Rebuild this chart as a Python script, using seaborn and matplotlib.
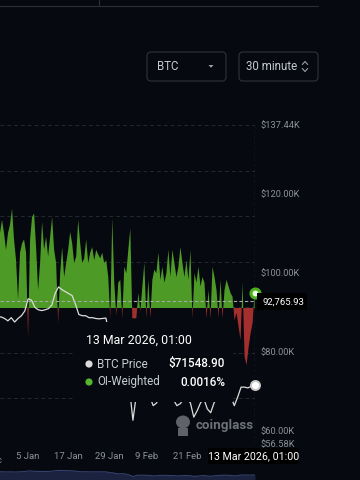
import numpy as np
import pandas as pd
import matplotlib
matplotlib.use("Agg")
import matplotlib.pyplot as plt
import seaborn as sns
from matplotlib.patches import Rectangle, FancyBboxPatch, Polygon, Circle, Ellipse
from matplotlib.lines import Line2D
from matplotlib.transforms import IdentityTransform

# ---------------- data ----------------
coin = "BTC"
interval = "30 minute"

price_end = "2026-03-13 01:00"
btc_price_k = [89.0, 88.7, 88.8, 88.4, 87.8, 88.6, 87.5, 88.4, 89.1, 90.3,
               93.4, 93.0, 91.2, 90.6, 90.4, 90.6, 90.9, 91.8, 94.8, 96.4,
               95.7, 95.2, 94.7, 94.2, 92.0, 89.4, 89.1, 89.1, 88.6, 88.6,
               88.4, 88.3, 88.4, 88.5, 84.5, 83.0, 79.0, 77.5, 78.5, 75.5,
               70.5, 62.6, 69.0, 70.5, 70.0, 69.5, 68.5, 66.3, 67.0, 69.0,
               69.5, 68.5, 68.0, 67.8, 66.3, 66.8, 68.0, 68.0, 67.0, 63.4,
               65.0, 67.0, 68.0, 65.5, 64.5, 67.0, 68.5, 69.5, 70.0, 69.5,
               68.5, 66.3, 68.5, 71.0, 71.0, 70.8, 71.2, 71.5489]

funding_start = "2025-12-27 17:00"
oi_weighted_pct = [0.0080, 0.0094, 0.0080, 0.0062, 0.0080, 0.0089, 0.0106, 0.0073, 0.0051, 0.0009,
                   0.0059, 0.0069, 0.0073, 0.0059, -0.0032, 0.0073, 0.0097, 0.0101, 0.0065, 0.0019,
                   0.0048, 0.0092, 0.0062, 0.0076, 0.0055, 0.0076, 0.0097, 0.0062, 0.0048, -0.0016,
                   0.0037, 0.0065, 0.0033, 0.0048, 0.0062, 0.0081, 0.0069, 0.0048, 0.0055, 0.0094,
                   0.0069, 0.0048, 0.0053, 0.0073, 0.0048, 0.0059, 0.0065, 0.0051, 0.0062, 0.0057,
                   0.0053, 0.0059, 0.0048, 0.0051, 0.0033, -0.0011, 0.0096, 0.0027, -0.0008, 0.0027,
                   0.0030, -0.0011, 0.0044, 0.0037, 0.0062, 0.0085, -0.0011, -0.0011, -0.0011, 0.0016,
                   -0.0004, 0.0023, 0.0048, -0.0011, 0.0030, -0.0011, 0.0030, 0.0041, 0.0037, 0.0059,
                   0.0030, 0.0044, 0.0027, 0.0037, 0.0062, 0.0033, 0.0062, 0.0048, 0.0033, 0.0044,
                   0.0065, 0.0048, 0.0033, 0.0051, 0.0030, 0.0062, -0.0011, 0.0037, 0.0027, 0.0044,
                   0.0023, 0.0033, 0.0027, -0.0011, 0.0019, -0.0011, 0.0044, 0.0033, 0.0019, -0.0010,
                   0.0030, -0.0011, 0.0019, 0.0030, 0.0023, 0.0016, 0.0012, -0.0013, -0.0005, -0.0020,
                   -0.0034, 0.0027, -0.0052, -0.0061, -0.0042, -0.0027, -0.0016, 0.0016]

tick_dates = ["2025-12-24", "2026-01-05", "2026-01-17", "2026-01-29", "2026-02-09", "2026-02-21"]
tick_labels = ["24 Dec", "5 Jan", "17 Jan", "29 Jan", "9 Feb", "21 Feb"]
price_ticks = [56.58, 60.0, 80.0, 100.0, 120.0, 137.44]
price_range = (56.58, 137.44)
funding_range = (-0.014507, 0.019520)

hover_time = "13 Mar 2026, 01:00"
hover_price = 71548.90
hover_funding = 0.0016
crosshair_price = 92765.93

# ---------------- style ----------------
BG = "#06090f"
GREEN = "#4e9a26"
RED = "#a3302f"
GRAY = "#8c9199"
W, H = 360, 480

sns.set_theme(style="dark", rc={"figure.facecolor": BG, "axes.facecolor": BG,
                                "savefig.facecolor": BG})
plt.rcParams["font.family"] = ["Roboto", "DejaVu Sans"]

fig = plt.figure(figsize=(3.6, 4.8), dpi=100)
PX = IdentityTransform()


def P(x, y):
    return (x, H - y)


# ---------------- main axes ----------------
ax_f = fig.add_axes([0, 1 - 444 / H, 254.6 / W, (444 - 125) / H])
ax_f.set_facecolor(BG)
price_dates = pd.date_range(end=price_end, periods=len(btc_price_k), freq="D")
fund_dates = pd.date_range(start=funding_start, end=price_end, periods=len(oi_weighted_pct))
fvals = np.array(oi_weighted_pct)

ax_f.fill_between(fund_dates, fvals, 0, where=fvals >= 0, interpolate=True,
                  color=GREEN, lw=0, zorder=2)
ax_f.fill_between(fund_dates, fvals, 0, where=fvals <= 0, interpolate=True,
                  color=RED, lw=0, zorder=2)
ax_f.set_ylim(*funding_range)
ax_f.set_xlim(pd.Timestamp(funding_start), pd.Timestamp(price_end))
ax_f.set_yticks(np.linspace(funding_range[0], funding_range[1], 8))
ax_f.grid(axis="y", color="#242830", lw=0.7, ls=(0, (4, 3)))
ax_f.grid(axis="x", visible=False)
ax_f.set_axisbelow(True)
ax_f.tick_params(axis="y", left=False, labelleft=False)
ax_f.set_xticks([pd.Timestamp(d) for d in tick_dates[1:]])
ax_f.set_xticklabels(tick_labels[1:])
ax_f.tick_params(axis="x", length=0, pad=6, labelsize=6.8, labelcolor=GRAY)
ax_f.text(pd.Timestamp(tick_dates[0]), -0.0365, tick_labels[0], transform=ax_f.get_xaxis_transform(),
          ha="center", va="top", fontsize=6.8, color=GRAY, clip_on=False)
for s in ax_f.spines.values():
    s.set_visible(False)
ax_f.scatter([fund_dates[-1]], [fvals[-1]], s=42, facecolor="#eaffdf", edgecolor="#4caf1f",
             linewidth=2.2, zorder=6, clip_on=False)

ax_p = ax_f.twinx()
ax_p.patch.set_visible(False)
sns.lineplot(x=price_dates, y=btc_price_k, ax=ax_p, color="#dcdcdc", lw=0.9, zorder=3)
ax_p.set_ylim(*price_range)
ax_p.set_xlim(pd.Timestamp(funding_start), pd.Timestamp(price_end))
ax_p.set_yticks(price_ticks)
ax_p.set_yticklabels([f"${v:.2f}K" for v in price_ticks])
ax_p.tick_params(axis="y", length=0, pad=4.5, labelsize=6.7, labelcolor=GRAY,
                 right=True, labelright=True, left=False, labelleft=False)
ax_p.grid(False)
ax_p.set_ylabel("")
for s in ax_p.spines.values():
    s.set_visible(False)
ax_p.axhline(crosshair_price / 1000, color="#a8a8a8", lw=0.8, ls=(0, (3, 2)), zorder=4)
ax_p.axvline(pd.Timestamp(price_end), color="#a8a8a8", lw=0.8, ls=(0, (3, 2)), zorder=4)
ax_p.scatter([price_dates[-1]], [btc_price_k[-1]], s=42, facecolor="#ffffff", edgecolor="#c9c9c9",
             linewidth=1.4, zorder=6, clip_on=False)

# ---------------- navigator ----------------
ax_n = fig.add_axes([0, 0, 255 / W, 15 / H])
ax_n.set_facecolor("#0c0f18")
sns.lineplot(x=price_dates, y=btc_price_k, ax=ax_n, color="#33406b", lw=0.8)
ax_n.fill_between(price_dates, btc_price_k, 0, color="#1b2240", lw=0)
ax_n.set_ylim(43.7, 126)
ax_n.set_xlim(pd.Timestamp(funding_start), pd.Timestamp(price_end))
ax_n.set_axis_off()

# ---------------- page chrome ----------------
fig.add_artist(Line2D([0, 318], [H - 5.5, H - 5.5], transform=PX, color="#2c2f36", lw=0.8))
fig.add_artist(Line2D([98.5, 98.5], [H, H - 5.5], transform=PX, color="#2c2f36", lw=0.8))

for (x0, x1) in [(147, 226), (239, 318)]:
    fig.add_artist(FancyBboxPatch(P(x0, 81), x1 - x0, 29, transform=PX,
                                  boxstyle="round,pad=0,rounding_size=4",
                                  facecolor=BG, edgecolor="#2b2f38", lw=0.9))
fig.text(157, H - 66.5, coin, transform=PX, ha="left", va="center", fontsize=8.3, color="#c5cad3")
fig.add_artist(Polygon([P(208.5, 65), P(213.5, 65), P(211, 67.8)], closed=True, transform=PX,
                       facecolor="#9aa0a8", edgecolor="none"))
fig.text(246, H - 66.5, interval, transform=PX, ha="left", va="center", fontsize=8.3, color="#c5cad3")
fig.add_artist(Line2D([302.3, 305, 307.7], [H - 64.5, H - 61.5, H - 64.5], transform=PX,
                      color="#9aa0a8", lw=0.8))
fig.add_artist(Line2D([302.3, 305, 307.7], [H - 68.5, H - 71.5, H - 68.5], transform=PX,
                      color="#9aa0a8", lw=0.8))

# crosshair price label
fig.add_artist(Rectangle(P(257, 310), 50, 17, transform=PX, facecolor="#000000",
                         edgecolor="none", zorder=10))
fig.text(283, H - 302, f"{crosshair_price:,.2f}", transform=PX, ha="center", va="center",
         fontsize=6.8, color="#ffffff", zorder=11)
# crosshair time label
fig.add_artist(Rectangle(P(208, 464), 91, 16, transform=PX, facecolor="#000000",
                         edgecolor="none", zorder=10))
fig.text(253.5, H - 456, hover_time, transform=PX, ha="center", va="center",
         fontsize=7.7, color="#ffffff", zorder=11)

# tooltip
fig.add_artist(Rectangle(P(73, 402), 160, 80, transform=PX, facecolor=BG,
                         edgecolor="none", zorder=10))
fig.text(86, H - 340, hover_time, transform=PX, ha="left", va="center",
         fontsize=8.9, color="#ffffff", zorder=11)
fig.add_artist(Circle(P(89, 364), 3.6, transform=PX, facecolor="#dadada", edgecolor="none", zorder=11))
fig.add_artist(Circle(P(89, 382), 3.6, transform=PX, facecolor="#55b52c", edgecolor="none", zorder=11))
fig.text(97, H - 364, "BTC Price", transform=PX, ha="left", va="center",
         fontsize=8.4, color="#c8ccd4", zorder=11)
fig.text(225, H - 364, f"${hover_price:.2f}", transform=PX, ha="right", va="center",
         fontsize=8.4, color="#ffffff", fontweight="medium", zorder=11)
fig.text(97, H - 382, "OI-Weighted", transform=PX, ha="left", va="center",
         fontsize=8.4, color="#c8ccd4", zorder=11)
fig.text(225, H - 382, f"{hover_funding:.4f}%", transform=PX, ha="right", va="center",
         fontsize=8.4, color="#ffffff", fontweight="medium", zorder=11)

# watermark
fig.add_artist(Ellipse(P(183, 422), 14, 13, transform=PX, facecolor="#5f6269", edgecolor="none", zorder=9))
fig.add_artist(Rectangle(P(178, 436), 10, 8, transform=PX, facecolor="#5f6269", edgecolor="none", zorder=9))
fig.text(196, H - 425, "coinglass", transform=PX, ha="left", va="center",
         fontsize=9.6, color="#6d7178", fontweight="bold", zorder=9)

fig.savefig("out.png", dpi=100, facecolor=BG)
